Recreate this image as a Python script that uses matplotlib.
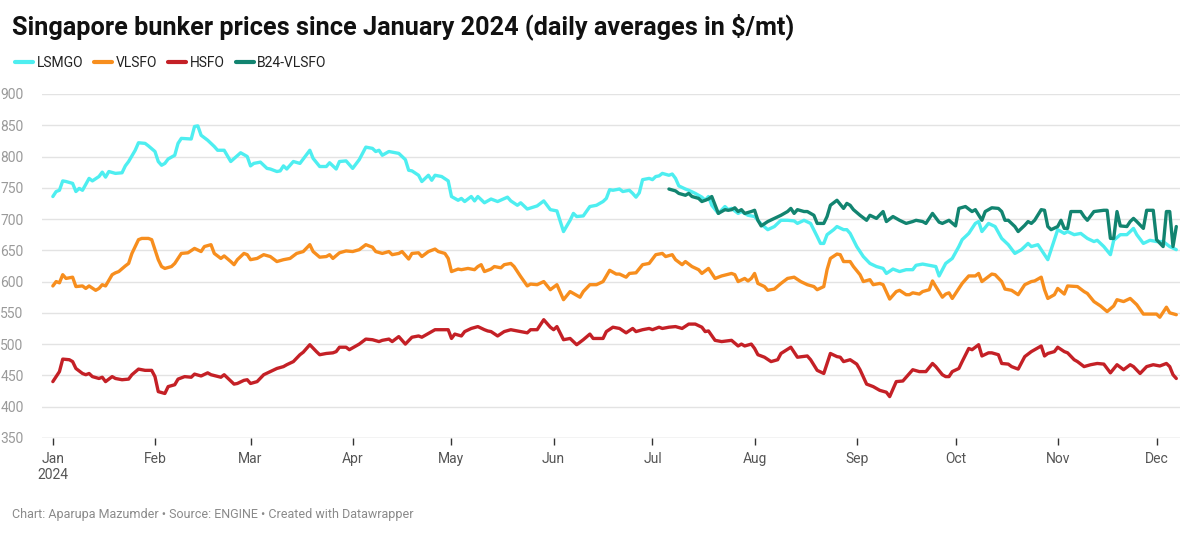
import numpy as np
import matplotlib
matplotlib.use("Agg")
import matplotlib.pyplot as plt
import matplotlib.dates as mdates
from matplotlib.lines import Line2D

plt.rcParams['font.family'] = ['Roboto', 'DejaVu Sans']

START = np.datetime64("2024-01-01")

# values, x = days since Jan 1 2024
lsmgo_days = [0, 1, 2, 3, 4, 6, 7, 8, 9, 11, 12, 14, 15, 16, 17, 19, 21, 22, 23, 25, 26, 28, 29, 31,
              32, 33, 34, 35, 37, 38, 39, 42, 43, 44, 45, 47, 49, 50, 52, 54, 57, 59, 60, 61, 63, 65,
              66, 68, 69, 70, 71, 73, 75, 78, 79, 81, 83, 84, 86, 87, 89, 91, 93, 95, 97, 98, 99, 100,
              102, 105, 107, 108, 109, 111, 112, 114, 115, 116, 118, 120, 121, 123, 124, 125, 127, 128,
              129, 131, 133, 135, 138, 139, 141, 142, 144, 147, 149, 151, 153, 155, 157, 158, 159, 161,
              163, 165, 167, 168, 169, 170, 172, 173, 175, 176, 177, 178, 179, 181, 182, 183, 184, 185,
              187, 188, 189, 190, 192, 193, 195, 197, 198, 199, 200, 202, 204, 205, 206, 208, 209, 211,
              213, 215, 217, 219, 221, 223, 225, 226, 228, 230, 232, 233, 234, 235, 237, 238, 240, 241,
              242, 244, 246, 248, 250, 252, 253, 255, 257, 259, 261, 262, 264, 266, 268, 269, 271, 273,
              275, 276, 278, 280, 281, 282, 284, 286, 288, 290, 292, 294, 296, 297, 299, 300, 302, 303,
              305, 307, 308, 310, 312, 314, 316, 317, 319, 321, 322, 324, 326, 328, 329, 331, 333, 335,
              337, 339, 341]
lsmgo = [736, 744, 746, 761, 760, 757, 744, 749, 746, 765, 761, 768, 775, 767, 776, 773, 774, 785, 792,
         810, 822, 821, 817, 808, 792, 786, 789, 796, 802, 821, 829, 828, 848, 849, 834, 826, 816, 810,
         810, 792, 806, 800, 785, 789, 791, 781, 780, 776, 777, 785, 780, 792, 789, 810, 797, 784, 784,
         790, 780, 792, 793, 781, 795, 815, 813, 808, 810, 802, 808, 805, 795, 778, 777, 770, 760, 770,
         762, 770, 768, 761, 736, 730, 733, 728, 736, 729, 736, 726, 732, 728, 735, 729, 722, 726, 716,
         721, 729, 715, 713, 680, 698, 709, 704, 705, 720, 722, 728, 733, 747, 746, 748, 744, 746, 741,
         735, 742, 763, 765, 763, 768, 769, 773, 770, 772, 765, 753, 748, 746, 741, 735, 730, 736, 722,
         709, 720, 715, 717, 709, 712, 706, 704, 692, 683, 688, 698, 698, 697, 693, 698, 693, 672, 661,
         661, 675, 683, 688, 683, 683, 677, 656, 640, 629, 624, 621, 613, 620, 616, 619, 619, 626, 628,
         626, 624, 609, 629, 637, 656, 667, 677, 693, 696, 680, 693, 688, 669, 659, 645, 651, 661, 656,
         659, 651, 635, 651, 683, 677, 680, 675, 677, 669, 664, 666, 656, 643, 666, 675, 675, 685, 675,
         661, 666, 664, 664, 656, 651]

vlsfo_days = [0, 1, 2, 3, 4, 6, 7, 9, 10, 11, 13, 14, 15, 16, 18, 19, 20, 22, 23, 24, 26, 27, 29, 30,
              32, 33, 34, 36, 37, 39, 41, 43, 45, 46, 48, 49, 51, 52, 54, 55, 56, 58, 59, 60, 62, 64,
              66, 68, 70, 72, 74, 76, 78, 79, 81, 83, 84, 85, 87, 89, 91, 93, 95, 97, 98, 100, 102, 103,
              105, 106, 108, 109, 111, 112, 114, 116, 117, 119, 120, 121, 123, 124, 126, 128, 129, 130,
              131, 133, 134, 136, 137, 139, 140, 142, 144, 145, 147, 149, 151, 153, 155, 157, 158, 160,
              161, 163, 165, 167, 169, 171, 172, 174, 175, 177, 179, 181, 183, 185, 186, 188, 189, 191,
              192, 194, 196, 197, 199, 201, 203, 206, 207, 208, 210, 211, 212, 213, 214, 216, 217, 219,
              221, 223, 225, 227, 229, 231, 232, 234, 235, 236, 238, 239, 240, 242, 243, 245, 246, 248,
              249, 251, 252, 254, 256, 257, 259, 260, 261, 263, 264, 266, 267, 268, 270, 271, 272, 273,
              275, 276, 278, 280, 281, 282, 285, 286, 288, 289, 291, 293, 295, 297, 298, 300, 301, 302,
              304, 305, 307, 308, 311, 313, 314, 316, 318, 320, 322, 323, 325, 327, 329, 331, 333, 335,
              336, 338, 339, 341]
vlsfo = [593, 600, 598, 611, 605, 607, 592, 593, 589, 593, 586, 589, 595, 593, 611, 614, 616, 625, 629,
         645, 667, 669, 669, 667, 635, 624, 621, 624, 629, 645, 646, 653, 648, 656, 659, 645, 637, 641,
         632, 627, 635, 645, 643, 635, 637, 643, 640, 632, 635, 637, 645, 648, 659, 648, 639, 640, 643,
         637, 646, 649, 648, 651, 659, 655, 648, 645, 648, 643, 645, 648, 636, 645, 646, 640, 648, 652,
         648, 645, 637, 616, 620, 619, 621, 619, 624, 627, 616, 620, 624, 622, 627, 629, 624, 608, 593,
         596, 595, 600, 587, 595, 571, 584, 581, 575, 584, 595, 595, 600, 618, 612, 612, 607, 613, 614,
         627, 629, 643, 645, 640, 643, 635, 627, 632, 624, 619, 613, 621, 605, 609, 613, 611, 600, 605,
         601, 605, 613, 597, 592, 586, 588, 597, 605, 607, 600, 595, 592, 587, 592, 619, 637, 644, 643,
         632, 632, 624, 611, 600, 603, 595, 597, 595, 572, 584, 586, 579, 579, 582, 580, 584, 587, 601,
         592, 575, 580, 582, 573, 589, 597, 609, 609, 613, 600, 612, 611, 600, 588, 586, 579, 595, 600,
         601, 607, 587, 573, 579, 589, 580, 593, 592, 584, 581, 568, 561, 552, 561, 571, 568, 573, 563,
         548, 548, 548, 543, 559, 550, 547]

hsfo_days = [0, 1, 2, 3, 5, 6, 7, 9, 10, 11, 12, 14, 15, 16, 18, 19, 21, 23, 24, 26, 28, 30, 31, 32,
             34, 35, 37, 38, 40, 42, 43, 45, 47, 48, 51, 52, 55, 56, 58, 59, 60, 62, 64, 66, 68, 70,
             71, 73, 75, 76, 78, 80, 81, 83, 85, 86, 87, 89, 90, 92, 93, 95, 97, 99, 100, 102, 103,
             105, 107, 109, 111, 112, 114, 116, 119, 120, 121, 122, 124, 125, 127, 129, 131, 132, 133,
             135, 137, 139, 141, 144, 145, 147, 149, 151, 152, 153, 155, 157, 159, 161, 163, 164, 167,
             168, 170, 172, 174, 176, 177, 179, 181, 182, 184, 185, 187, 189, 191, 193, 195, 197, 198,
             199, 201, 203, 206, 208, 209, 210, 212, 213, 214, 216, 218, 220, 221, 224, 226, 229, 230,
             232, 234, 235, 236, 238, 239, 240, 242, 244, 245, 247, 249, 251, 253, 254, 256, 258, 261,
             263, 265, 267, 268, 270, 271, 272, 273, 275, 276, 278, 279, 281, 282, 284, 285, 287, 288,
             290, 291, 293, 295, 297, 298, 300, 301, 302, 304, 305, 307, 308, 310, 311, 313, 315, 317,
             319, 321, 323, 325, 327, 328, 330, 332, 334, 336, 338, 339, 340, 341]
hsfo = [440, 448, 456, 476, 475, 472, 461, 453, 451, 453, 448, 445, 447, 440, 448, 445, 443, 444, 451,
        460, 458, 458, 448, 424, 421, 432, 435, 444, 448, 447, 452, 449, 454, 451, 447, 451, 436, 437,
        442, 443, 437, 440, 451, 456, 461, 464, 467, 472, 483, 487, 499, 488, 483, 485, 486, 488, 495,
        495, 491, 497, 500, 508, 507, 504, 506, 508, 504, 512, 500, 511, 513, 511, 517, 523, 523, 523,
        509, 516, 513, 520, 525, 528, 523, 521, 520, 513, 520, 523, 521, 518, 523, 523, 539, 527, 523,
        528, 507, 509, 499, 507, 516, 509, 509, 520, 527, 525, 518, 525, 520, 523, 525, 523, 527, 525,
        527, 528, 525, 532, 532, 527, 520, 521, 506, 504, 506, 497, 500, 497, 500, 493, 483, 479, 472,
        475, 485, 495, 479, 481, 475, 458, 453, 469, 485, 480, 479, 472, 475, 468, 459, 436, 432, 426,
        423, 416, 440, 441, 459, 456, 456, 469, 464, 451, 448, 448, 456, 461, 472, 493, 491, 499, 481,
        486, 486, 483, 469, 468, 464, 460, 480, 488, 491, 497, 481, 485, 488, 495, 488, 486, 475, 472,
        464, 467, 469, 468, 454, 467, 459, 467, 464, 453, 464, 467, 465, 469, 464, 451, 445]

b24_days = [187, 189, 190, 192, 193, 194, 196, 197, 199, 200, 202, 204, 205, 206, 207, 208, 209, 210,
            212, 213, 214, 215, 217, 219, 221, 223, 224, 225, 226, 228, 229, 231, 232, 234, 235, 236,
            238, 240, 241, 242, 243, 245, 247, 248, 250, 252, 253, 255, 257, 259, 261, 262, 264, 265,
            267, 269, 270, 272, 274, 275, 277, 279, 280, 282, 283, 285, 287, 288, 289, 290, 292, 293,
            295, 296, 297, 298, 300, 301, 302, 303, 305, 306, 307, 308, 309, 312, 313, 314, 316, 319,
            320, 321, 322, 323, 324, 326, 327, 328, 329, 331, 332, 334, 335, 337, 338, 339, 340, 341]
b24 = [748, 745, 741, 738, 741, 736, 733, 728, 732, 736, 709, 715, 714, 715, 718, 712, 715, 709, 712,
       714, 698, 689, 696, 701, 706, 712, 717, 709, 715, 712, 712, 706, 693, 693, 704, 722, 730, 717,
       725, 722, 715, 706, 698, 706, 701, 712, 696, 704, 698, 693, 696, 698, 696, 693, 709, 695, 693,
       698, 689, 717, 720, 712, 715, 698, 712, 718, 717, 712, 698, 698, 688, 680, 690, 696, 693, 698,
       715, 714, 688, 683, 688, 698, 685, 685, 712, 712, 704, 698, 712, 714, 714, 669, 669, 712, 689,
       688, 696, 701, 696, 685, 714, 714, 667, 656, 712, 712, 656, 688]

series = [
    ("LSMGO", lsmgo_days, lsmgo, "#4EEEF0"),
    ("VLSFO", vlsfo_days, vlsfo, "#F78E1E"),
    ("HSFO", hsfo_days, hsfo, "#C42026"),
    ("B24-VLSFO", b24_days, b24, "#128470"),
]
y_ticks = [350, 400, 450, 500, 550, 600, 650, 700, 750, 800, 850, 900]


def to_dates(days):
    return START + np.array(days).astype("timedelta64[D]")


fig = plt.figure(figsize=(12, 5.34), dpi=100)
ax = fig.add_axes([0.035, 0.18, 0.948, 0.644])

for name, d, v, c in series:
    ax.plot(to_dates(d), v, color=c, lw=2.4, solid_joinstyle="round", solid_capstyle="round", zorder=3)

ax.set_ylim(350, 900)
ax.set_xlim(START - np.timedelta64(79, "h"), START + np.timedelta64(342, "D"))
ax.set_yticks(y_ticks)
ax.grid(axis="y", color="#e3e3e3", lw=1, zorder=0)
for s in ax.spines.values():
    s.set_visible(False)
ax.tick_params(axis="y", length=0, labelsize=10, labelcolor="#9a9a9a")
for lab in ax.get_yticklabels():
    lab.set_horizontalalignment("left")
ax.yaxis.set_tick_params(pad=30)

ax.xaxis.set_major_locator(mdates.MonthLocator())


def month_fmt(x, pos):
    dt = mdates.num2date(x)
    if dt.month == 1:
        return "Jan\n2024"
    return dt.strftime("%b")


ax.xaxis.set_major_formatter(plt.FuncFormatter(month_fmt))
ax.tick_params(axis="x", length=5, width=1, color="#333333", labelsize=10, labelcolor="#555555",
               direction="out", pad=5)
ax.axhline(350, color="#dddddd", lw=1, zorder=1)

fig.text(0.01, 0.95, "Singapore bunker prices since January 2024 (daily averages in $/mt)",
         fontsize=18.2, fontweight="bold", color="#111111", va="center")

handles = [Line2D([0], [0], color=c, lw=3, solid_capstyle="round") for _, _, _, c in series]
fig.legend(handles, [s[0] for s in series], loc="center left", bbox_to_anchor=(0.002, 0.882),
           ncol=4, frameon=False, fontsize=10, handlelength=1.3, handletextpad=0.25,
           columnspacing=0.8, labelcolor="#222222")

fig.text(0.01, 0.037, "Chart: Aparupa Mazumder \u2022 Source: ENGINE \u2022 Created with Datawrapper",
         fontsize=9, color="#8a8a8a", va="center")

fig.savefig("out.png", dpi=100, facecolor="white")
